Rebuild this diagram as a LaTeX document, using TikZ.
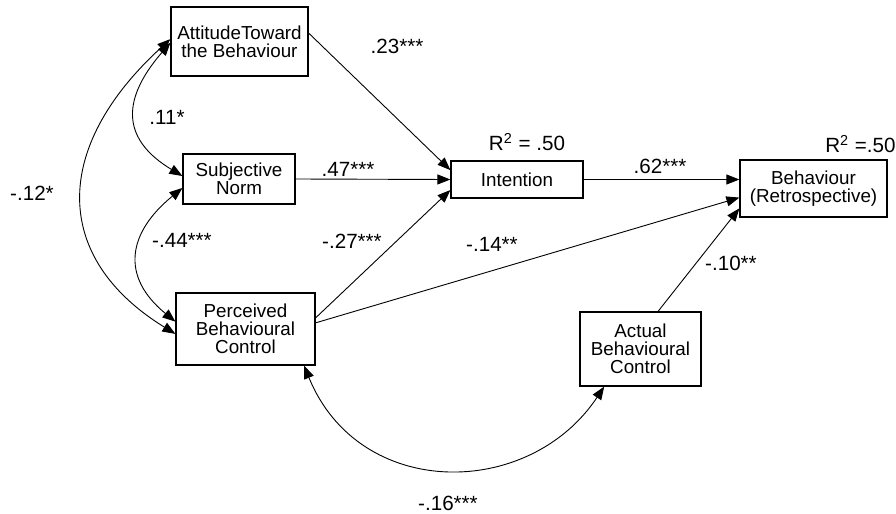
\documentclass[tikz,border=0pt]{standalone}
\usepackage{fontspec}
\setmainfont{Liberation Sans}
\usepackage{tikz}
\usetikzlibrary{arrows.meta,calc}
\newcommand{\boxfont}{\fontsize{9.4}{9}\selectfont}
\newcommand{\coeffont}{\fontsize{10.3}{10}\selectfont}
\tikzset{
  var/.style={draw=black,line width=0.6pt,fill=white,align=center,inner sep=0pt,font=\boxfont},
  effect/.style={-{Triangle[length=6.5pt,width=5pt]},line width=0.45pt},
  covar/.style={{Triangle[length=6.5pt,width=5pt]}-{Triangle[length=6.5pt,width=5pt]},line width=0.45pt},
  coef/.style={font=\coeffont,inner sep=0pt}
}

\begin{document}
\begin{tikzpicture}[x=0.5pt,y=-0.5pt]

  \useasboundingbox (0,0) rectangle (896,514);

  \node[var,minimum width=68.5pt,minimum height=34.5pt] (att) at (239.5,41.5) {AttitudeToward\\the Behaviour};
  \node[var,minimum width=56pt,minimum height=25pt] (subj) at (239,179) {Subjective\\Norm};
  \node[var,minimum width=69.5pt,minimum height=36pt] (pbc) at (245.5,329) {Perceived\\Behavioural\\Control};
  \node[var,minimum width=66pt,minimum height=18.5pt] (intent) at (517,179.5) {Intention};
  \node[var,minimum width=73.5pt,minimum height=28.5pt] (behav) at (813.5,188.5) {Behaviour\\(Retrospective)};
  \node[var,minimum width=60.5pt,minimum height=37pt] (actual) at (640.5,349) {Actual\\Behavioural\\Control};

  \draw[effect] (att.7) -- (intent.172);
  \draw[effect] (subj.east) -- (intent.west);
  \draw[effect] (pbc.9) -- (intent.189);
  \draw[effect] (pbc.5) -- (behav.187);
  \draw[effect] (intent.east) -- (intent.east -| behav.west);
  \draw[effect] (actual.65) -- (behav.195);

  \draw[covar] (att.181) .. controls +(-52,60) and +(-58,-35) .. (subj.177);
  \draw[covar] (att.178) .. controls +(-120,110) and +(-122,-75) .. (pbc.184);
  \draw[covar] (subj.189) .. controls +(-55,45) and +(-55,-45) .. (pbc.174);
  \draw[covar] (pbc.328) .. controls +(55,135) and +(-75,113) .. (actual.226);

  \node[coef] (c23) at (397,46) {.23***};
  \node[coef] (c11) at (167,117) {.11*};
  \node[coef] (c47) at (348,169) {.47***};
  \node[coef] (c12) at (32,193) {-.12*};
  \node[coef] (c44) at (182,240) {-.44***};
  \node[coef] (c27) at (352,241) {-.27***};
  \node[coef] (c14) at (492,244) {-.14**};
  \node[coef] (c62) at (660,166) {.62***};
  \node[coef] (c10) at (731,263) {-.10**};
  \node[coef] (c16) at (448,503) {-.16***};

  \node[coef] (rint) at (527,142) {R\textsuperscript{2} = .50};
  \node[coef,anchor=east] (rbeh) at (896,144) {R\textsuperscript{2} =.50};

\end{tikzpicture}
\end{document}
